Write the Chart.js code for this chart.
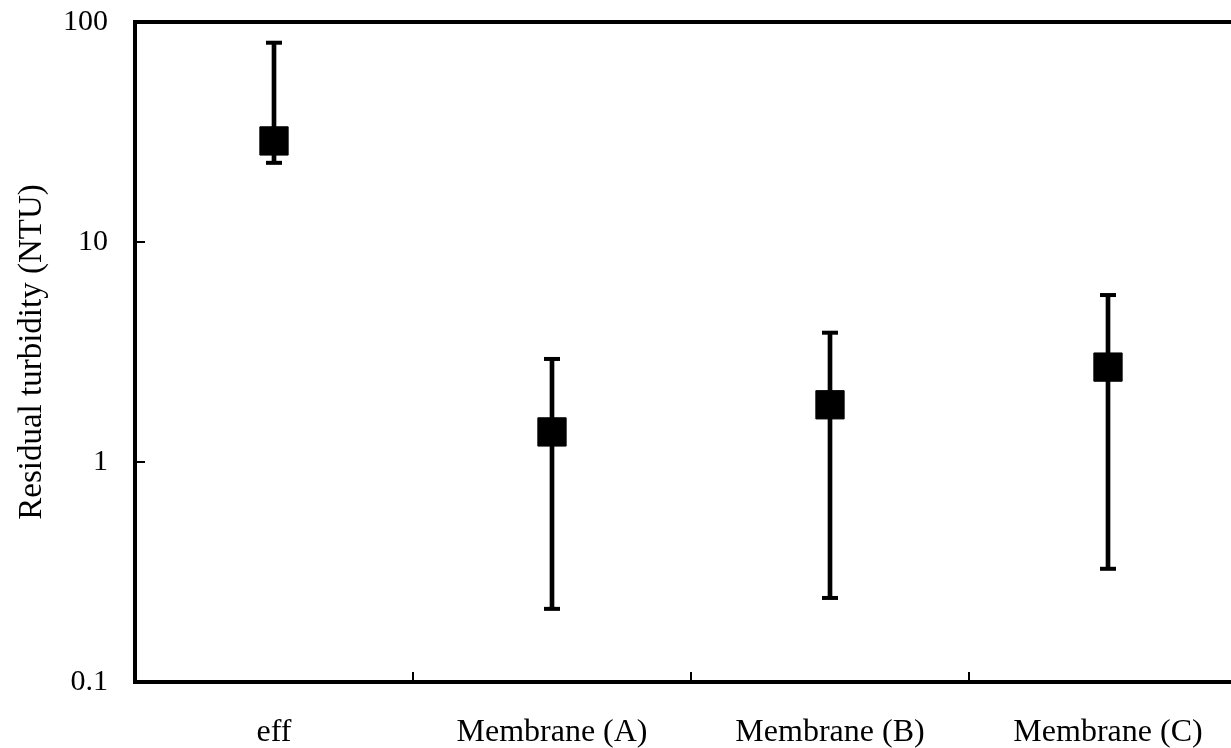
<!DOCTYPE html>
<html>
<head>
<meta charset="utf-8">
<title>Residual turbidity</title>
<script src="https://cdn.jsdelivr.net/npm/chart.js@4/dist/chart.umd.min.js"></script>
<style>
  html, body { margin: 0; padding: 0; background: #fff; overflow: hidden; }
  #wrap { width: 1247px; height: 748px; }
  canvas { display: block; }
</style>
</head>
<body>
<div id="wrap"><canvas id="chart" width="1247" height="748"></canvas></div>
<script>
// Residual turbidity (NTU): mean with min/max range per sample
const categories = ['eff', 'Membrane (A)', 'Membrane (B)', 'Membrane (C)'];
const meanTurbidity = [28.8, 1.37, 1.82, 2.70];
const maxTurbidity = [80.5, 2.94, 3.87, 5.74];
const minTurbidity = [22.9, 0.215, 0.241, 0.327];
const yTickValues = [0.1, 1, 10, 100];

const INK = '#000000';
const SERIF = "'Liberation Serif', 'Times New Roman', serif";

// top edge of the plot frame
const frameTop = {
  id: 'frameTop',
  afterDraw(chart) {
    const { ctx, chartArea } = chart;
    ctx.save();
    ctx.strokeStyle = INK;
    ctx.lineWidth = 4;
    ctx.beginPath();
    ctx.moveTo(chartArea.left - 2, chartArea.top);
    ctx.lineTo(chartArea.right, chartArea.top);
    ctx.stroke();
    ctx.restore();
  }
};

new Chart(document.getElementById('chart'), {
  type: 'bar',
  data: {
    labels: categories,
    datasets: [
      {
        type: 'line',
        label: 'Mean',
        data: meanTurbidity,
        showLine: false,
        pointStyle: 'rect',
        pointRadius: 20,
        pointBackgroundColor: INK,
        pointBorderColor: INK,
        pointBorderWidth: 1
      },
      {
        type: 'line',
        label: 'Max',
        data: maxTurbidity,
        showLine: false,
        pointStyle: 'line',
        pointRadius: 8,
        pointBorderColor: INK,
        pointBorderWidth: 4
      },
      {
        type: 'line',
        label: 'Min',
        data: minTurbidity,
        showLine: false,
        pointStyle: 'line',
        pointRadius: 8,
        pointBorderColor: INK,
        pointBorderWidth: 4
      },
      {
        type: 'bar',
        label: 'Range',
        data: categories.map((_, i) => [minTurbidity[i], maxTurbidity[i]]),
        backgroundColor: INK,
        borderWidth: 0,
        barThickness: 4
      }
    ]
  },
  options: {
    responsive: false,
    animation: false,
    // the plot area runs on past the right edge of the page
    layout: { autoPadding: false, padding: { top: 22, left: 0, right: 0, bottom: 0 } },
    plugins: {
      legend: { display: false },
      tooltip: { enabled: false }
    },
    scales: {
      x: {
        type: 'category',
        offset: true,
        grid: {
          offset: true,
          drawOnChartArea: false,
          tickLength: -10,
          color: INK,
          lineWidth: 2
        },
        border: { color: INK, width: 4 },
        ticks: {
          color: INK,
          font: { family: SERIF, size: 32 },
          padding: 41,
          maxRotation: 0,
          autoSkip: false
        },
        afterFit(scale) {
          scale.height = 66;
          scale.paddingLeft = 0;
          scale.paddingRight = 0;
        }
      },
      y: {
        type: 'logarithmic',
        min: 0.1,
        max: 100,
        afterBuildTicks(scale) {
          scale.ticks = yTickValues.map(v => ({ value: v }));
        },
        grid: {
          drawOnChartArea: false,
          tickLength: -10,
          color: INK,
          lineWidth: 2
        },
        border: { color: INK, width: 4 },
        ticks: {
          color: INK,
          font: { family: SERIF, size: 30 },
          padding: 37,
          callback: (v) => String(v)
        },
        title: {
          display: true,
          text: 'Residual turbidity (NTU)',
          color: INK,
          font: { family: SERIF, size: 33 },
          padding: { top: 13, bottom: 0 }
        },
        afterFit(scale) {
          scale.width = 135;
          scale.paddingTop = 0;
          scale.paddingBottom = 0;
        }
      }
    }
  },
  plugins: [frameTop]
});
</script>
</body>
</html>
